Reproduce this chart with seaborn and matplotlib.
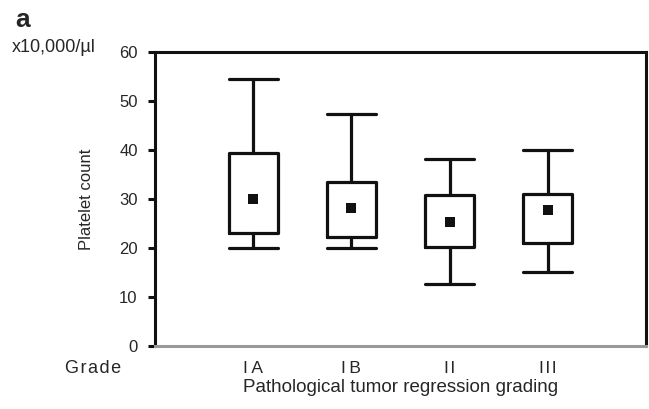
import matplotlib
matplotlib.use("Agg")
import matplotlib.pyplot as plt
import seaborn as sns
import pandas as pd

grades = ["IA", "IB", "II", "III"]
grade_labels = ["I\u2009A", "I\u2009B", "I\u200aI", "I\u200aI\u200aI"]
whisker_low = [20.1, 20.0, 12.7, 15.1]
q1 = [23.0, 22.2, 20.2, 21.1]
mean = [29.9, 28.1, 25.4, 27.8]
q3 = [39.3, 33.4, 30.9, 31.0]
whisker_high = [54.5, 47.3, 38.1, 39.9]

rows = []
for g, lo, a, m, b, hi in zip(grades, whisker_low, q1, mean, q3, whisker_high):
    for v in (lo, a, m, b, hi):
        rows.append({"grade": g, "value": v})
df = pd.DataFrame(rows)
means_df = pd.DataFrame({"grade": grades, "value": mean})

sns.set_style("white")
plt.rcParams["font.family"] = ["Liberation Sans", "DejaVu Sans"]

fig = plt.figure(figsize=(6.49, 4.09), dpi=100)
ax = fig.add_axes([155/649, 1-346/409, (646-155)/649, (346-52)/409])

lw = 2.3
sns.boxplot(data=df, x="grade", y="value", order=grades, whis=(0, 100), width=0.5,
            color="white", linecolor="#111111", linewidth=lw, fill=False,
            showfliers=False, showcaps=True, ax=ax,
            medianprops=dict(visible=False),
            boxprops=dict(linewidth=lw, color="#111111"),
            whiskerprops=dict(linewidth=lw, color="#111111", solid_capstyle="round"),
            capprops=dict(linewidth=lw, color="#111111", solid_capstyle="round"),
            capwidths=0.5)
sns.scatterplot(data=means_df, x="grade", y="value", marker="s", s=55, color="#111111",
                edgecolor="#111111", linewidth=0, ax=ax, zorder=5)

ax.set_xlim(-1, 4)
ax.set_ylim(0, 60)
ax.set_yticks([0, 10, 20, 30, 40, 50, 60])
ax.set_yticklabels(["0", "10", "20", "30", "40", "50", "60"], fontsize=12)
ax.set_xticks(range(4))
ax.set_xticklabels(grade_labels, fontsize=12.5)
ax.tick_params(axis="y", direction="out", length=5, width=2.2, color="#111111", pad=7.5, left=True)
ax.tick_params(axis="x", length=0, pad=11)
for s in ["left", "top", "right"]:
    ax.spines[s].set_color("#111111")
    ax.spines[s].set_linewidth(2.2)
    ax.spines[s].set_visible(True)
ax.spines["bottom"].set_color("#999999")
ax.spines["bottom"].set_linewidth(2.2)
ax.spines["bottom"].set_visible(True)

ax.set_xlabel("Pathological tumor regression grading", fontsize=13.5, labelpad=2)
ax.set_ylabel("Platelet count", fontsize=12, labelpad=18)

fig.text(15/649, 1-27/409, "a", fontsize=19, fontweight="bold", ha="left", va="baseline")
fig.text(12/649, 1-52/409, "x10,000/µl", fontsize=13, ha="left", va="baseline")
fig.text(65/649, 1-373/409, "G\u200ar\u200aa\u200ad\u200ae", fontsize=13, ha="left", va="baseline")

fig.savefig("out.png", dpi=100)
